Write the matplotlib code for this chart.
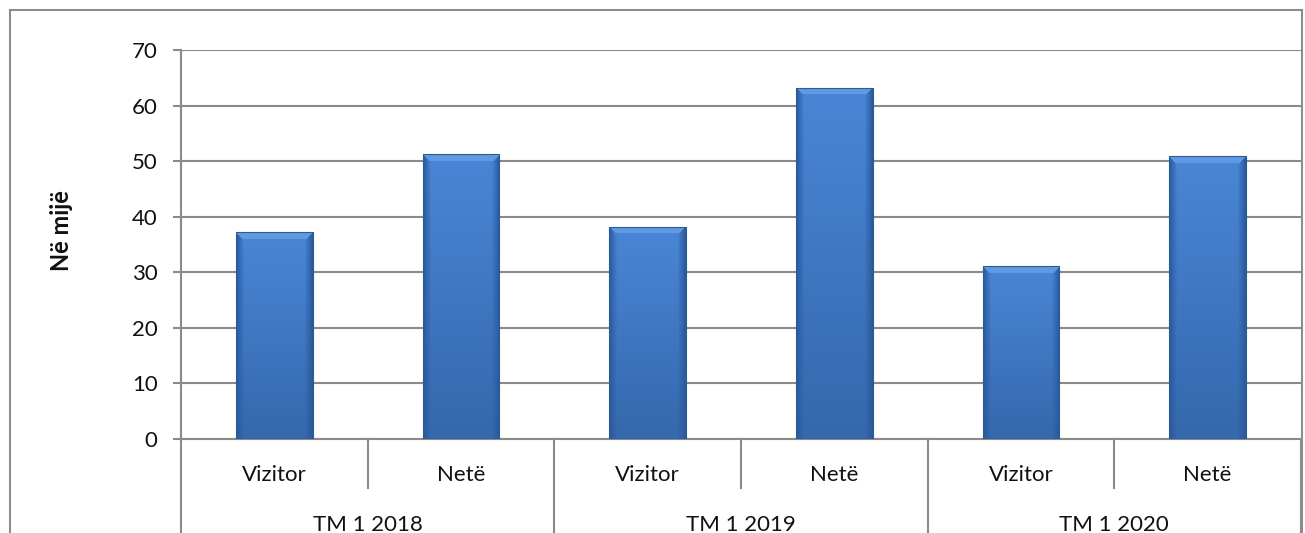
import numpy as np
import matplotlib
matplotlib.use("Agg")
import matplotlib.pyplot as plt
from matplotlib.patches import Rectangle
from matplotlib.lines import Line2D
import matplotlib.colors as mcolors

# ---- data ----
groups = ["TM 1 2018", "TM 1 2019", "TM 1 2020"]
subcats = ["Vizitor", "Netë"]
values_2018 = [37.2, 51.2]
values_2019 = [38.2, 63.2]
values_2020 = [31.1, 50.9]
y_ticks = [0, 10, 20, 30, 40, 50, 60, 70]
y_label = "Në mijë"

values = values_2018 + values_2019 + values_2020
labels = subcats * len(groups)

plt.rcParams['font.family'] = ['Lato', 'DejaVu Sans']

W, H = 1305, 533
fig = plt.figure(figsize=(W / 100, H / 100), dpi=100)
fig.patch.set_facecolor("white")

left_px, right_px, top_px, bot_px = 181, 1301, 50, 439
ax = fig.add_axes([left_px / W, 1 - bot_px / H, (right_px - left_px) / W, (bot_px - top_px) / H])

x = np.arange(len(values))
ax.set_xlim(-0.5, len(values) - 0.5)
ax.set_ylim(0, 70)

FS = 16
grid_col = "#8a8a8a"
ax.set_yticks(y_ticks)
ax.yaxis.grid(True, color=grid_col, lw=1.5, zorder=0)
ax.set_axisbelow(True)
for s in ["top", "right"]:
    ax.spines[s].set_visible(False)
for s in ["left", "bottom"]:
    ax.spines[s].set_color(grid_col)
    ax.spines[s].set_linewidth(1.5)
ax.set_xticks([])
ax.tick_params(axis="y", length=5.8, width=1.5, color=grid_col, pad=11,
               labelsize=FS, labelcolor="#111111")

bars = ax.bar(x, values, width=0.41, color="#3d77c6", edgecolor="none", zorder=2)

# gradient / bevel fill for bars
fig.canvas.draw()
base_top = np.array(mcolors.to_rgb("#4a86d6"))
base_bot = np.array(mcolors.to_rgb("#3568ad"))
edge_col = np.array(mcolors.to_rgb("#2a5a9c"))
bevel_col = np.array(mcolors.to_rgb("#6aa2e8"))
for b in bars:
    x0, y0 = b.get_x(), b.get_y()
    w, h = b.get_width(), b.get_height()
    p0 = ax.transData.transform((x0, y0))
    p1 = ax.transData.transform((x0 + w, y0 + h))
    nx = max(int(round(p1[0] - p0[0])), 2)
    ny = max(int(round(p1[1] - p0[1])), 2)
    img = np.zeros((ny, nx, 3))
    for r in range(ny):
        t = r / (ny - 1)
        base = base_top * (1 - t) + base_bot * t
        for c in range(nx):
            d_edge = min(c, nx - 1 - c)
            col = base.copy()
            f = min(d_edge / 8.0, 1.0)
            col = edge_col * (1 - f) + col * f
            if r < 7 and d_edge >= r:
                col = bevel_col * 0.7 + base * 0.3
            img[r, c] = col
    im = ax.imshow(img, extent=(x0, x0 + w, y0, y0 + h), origin="upper",
                   aspect="auto", zorder=3, interpolation="bilinear")
    im.set_clip_path(b)
    ax.add_patch(Rectangle((x0, y0), w, h, fill=False, edgecolor="#2c5a95",
                           lw=0.8, zorder=4))
ax.set_xlim(-0.5, len(values) - 0.5)
ax.set_ylim(0, 70)

# category axis decorations
trans = ax.get_xaxis_transform()
ax_h_px = bot_px - top_px
short_len = (488 - bot_px) / ax_h_px
long_len = (H + 5 - bot_px) / ax_h_px
n_per = len(subcats)
for i in range(len(values) + 1):
    xb = i - 0.5
    L = long_len if i % n_per == 0 else short_len
    ax.add_line(Line2D([xb, xb], [0, -L], transform=trans, color=grid_col,
                       lw=1.5, clip_on=False))

lab_y = -(475 - bot_px) / ax_h_px
for xi, lab in zip(x, labels):
    ax.text(xi, lab_y, lab, transform=trans, ha="center", va="center",
            fontsize=FS, color="#111111")
grp_y = -(531 - bot_px) / ax_h_px
for gi, g in enumerate(groups):
    xc = gi * n_per + (n_per - 1) / 2
    ax.text(xc, grp_y, g, transform=trans, ha="center", va="baseline",
            fontsize=FS, color="#111111")

fig.text(62 / W, 1 - 231 / H, y_label, rotation=90, ha="center", va="center",
         fontsize=17, fontweight="bold", color="#111111")

# outer frame
fig.add_artist(Rectangle((10 / W, -0.1), (1302 - 10) / W, 1.1 - 10 / H,
                         transform=fig.transFigure, fill=False,
                         edgecolor="#8c8c8c", lw=1.5))

fig.savefig("out.png", dpi=100, facecolor="white")
